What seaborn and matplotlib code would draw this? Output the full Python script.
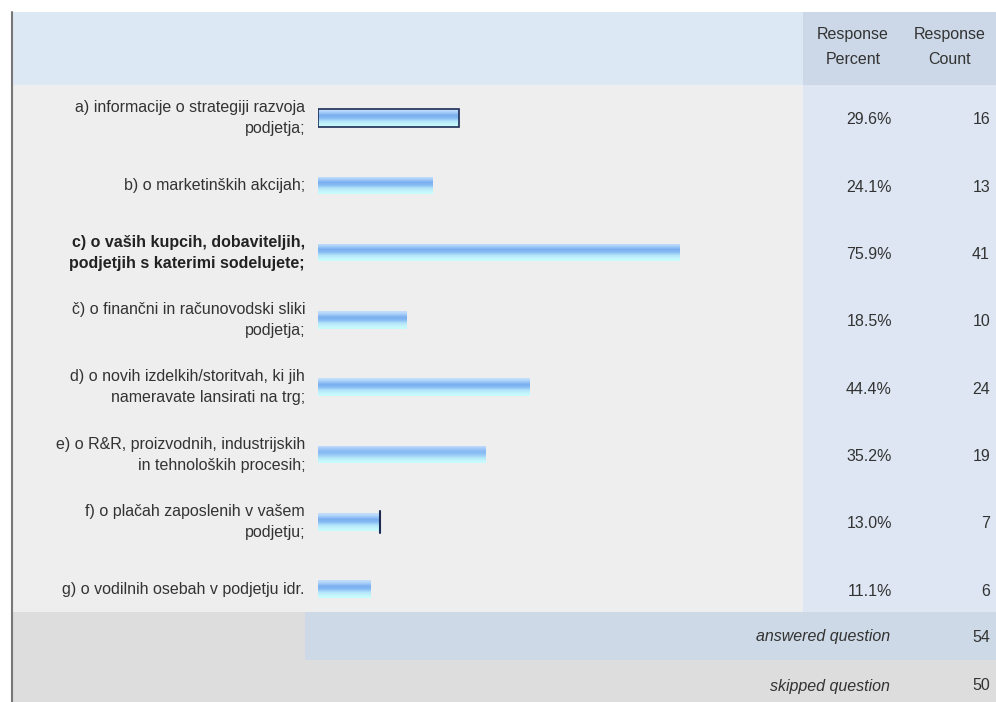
import numpy as np
import pandas as pd
import matplotlib
matplotlib.use("Agg")
import matplotlib.pyplot as plt
import seaborn as sns
from matplotlib.transforms import blended_transform_factory

labels = [
    "a) informacije o strategiji razvoja\npodjetja;",
    "b) o marketinških akcijah;",
    "c) o vaših kupcih, dobaviteljih,\npodjetjih s katerimi sodelujete;",
    "č) o finančni in računovodski sliki\npodjetja;",
    "d) o novih izdelkih/storitvah, ki jih\nnameravate lansirati na trg;",
    "e) o R&R, proizvodnih, industrijskih\nin tehnoloških procesih;",
    "f) o plačah zaposlenih v vašem\npodjetju;",
    "g) o vodilnih osebah v podjetju idr.",
]
percent = [29.6, 24.1, 75.9, 18.5, 44.4, 35.2, 13.0, 11.1]
count = [16, 13, 41, 10, 24, 19, 7, 6]
answered = 54
skipped = 50

df = pd.DataFrame({"label": labels, "percent": percent, "count": count})

sns.set_theme(style="white")
plt.rcParams["font.family"] = ["Liberation Sans", "DejaVu Sans"]

W, H = 996, 702
fig = plt.figure(figsize=(W / 100, H / 100), dpi=100)

# background table, in pixel coordinates
bg = fig.add_axes([0, 0, 1, 1])
bg.set_xlim(0, W)
bg.set_ylim(H, 0)
bg.axis("off")

def block(x0, y0, x1, y1, c):
    bg.add_patch(plt.Rectangle((x0, y0), x1 - x0, y1 - y0, color=c, lw=0))

block(12, 12, 803, 85, "#dde8f5")
block(803, 12, W, 85, "#ccd8e7")
block(12, 85, 803, 612, "#eeeeee")
block(803, 85, W, 612, "#dde6f2")
block(12, 612, W, H, "#dddddd")
block(305, 612, W, 660, "#cdd9e6")
bg.plot([12, 12], [12, H], color="#777777", lw=1.5)

txt = "#333333"
fs = 11.5
bg.text(853, 47, "Response\nPercent", ha="center", va="center", fontsize=fs,
        color=txt, linespacing=1.75)
bg.text(950, 47, "Response\nCount", ha="center", va="center", fontsize=fs,
        color=txt, linespacing=1.75)
bg.text(890, 637, "answered question", ha="right", va="center", fontsize=fs,
        color=txt, style="italic")
bg.text(990, 637, str(answered), ha="right", va="center", fontsize=fs, color=txt)
bg.text(890, 686, "skipped question", ha="right", va="center", fontsize=fs,
        color=txt, style="italic")
bg.text(990, 686, str(skipped), ha="right", va="center", fontsize=fs, color=txt)

# bar axes: 0% at x=318px, 100% at x=794px
ax = fig.add_axes([318 / W, (H - 612) / H, 476 / W, 527 / H])
ax.patch.set_alpha(0)
sns.barplot(data=df, x="percent", y="label", orient="h", width=0.26,
            color="#8dbcf3", ax=ax, linewidth=0)
ax.set_xlim(0, 100)
ax.set_ylim(7.34, -0.49)
ax.axis("off")

# gradient fill for each bar
grad = np.array([[0.0], [0.25], [0.5], [0.7], [0.85], [1.0]])
cmap = matplotlib.colors.LinearSegmentedColormap.from_list(
    "bar", ["#c2defc", "#9cc7f7", "#7aaef0", "#86bbf3", "#b6e6fa", "#c8fcfc"])
for p in ax.patches:
    x0, y0 = p.get_x(), p.get_y()
    w, h = p.get_width(), p.get_height()
    im = ax.imshow(grad, cmap=cmap, aspect="auto",
                   extent=(x0, x0 + w, y0 + h, y0), zorder=3,
                   interpolation="bicubic")
    im.set_clip_path(p)
ax.set_xlim(0, 100)
ax.set_ylim(7.34, -0.49)

# outline artefacts on first and seventh bar
pa = ax.patches[0]
ax.add_patch(plt.Rectangle((pa.get_x(), pa.get_y()), pa.get_width(), pa.get_height(),
                           fill=False, ec="#1c2c55", lw=1.2, zorder=4))
pf = ax.patches[6]
ax.plot([pf.get_width(), pf.get_width()], [pf.get_y() - 0.03, pf.get_y() + pf.get_height() + 0.03],
        color="#1c2c55", lw=1.5, zorder=4)

tr = blended_transform_factory(bg.transData, ax.transData)
for i, row in df.iterrows():
    bold = row["label"].startswith("c)")
    ax.text(305, i, row["label"], transform=tr, ha="right", va="center",
            fontsize=fs, color="#222222" if bold else txt,
            fontweight="bold" if bold else "normal", linespacing=1.5)
    ax.text(892, i + 0.03, f"{row['percent']:.1f}%", transform=tr, ha="right",
            va="center", fontsize=fs, color=txt)
    ax.text(990, i + 0.03, str(row["count"]), transform=tr, ha="right",
            va="center", fontsize=fs, color=txt)

fig.savefig("out.png", dpi=100)
